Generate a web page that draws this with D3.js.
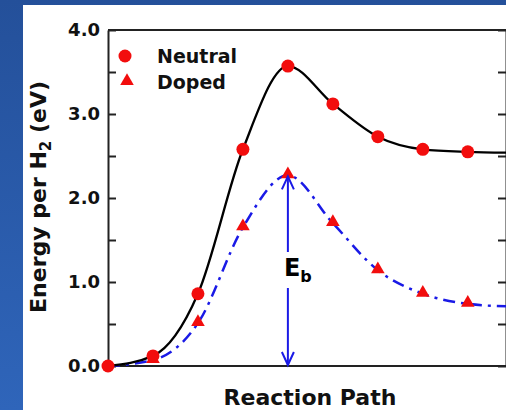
<!DOCTYPE html>
<html>
<head>
<meta charset="utf-8">
<script src="https://cdn.jsdelivr.net/npm/d3@7"></script>
<style>
  html, body { margin: 0; padding: 0; }
  body { width: 506px; height: 410px; overflow: hidden; }
  text { font-family: "DejaVu Sans", sans-serif; font-weight: bold; }
</style>
</head>
<body>
<svg id="chart" width="506" height="410"></svg>
<script>
// reaction coordinate (image index along the path)
const steps = [0, 1, 2, 3, 4, 5, 6, 7, 8]
// energy per H2 in eV
const neutral = [0.00, 0.12, 0.86, 2.58, 3.57, 3.12, 2.73, 2.58, 2.55]
const doped = [0.00, 0.07, 0.51, 1.65, 2.27, 1.70, 1.14, 0.86, 0.74]
// where the fitted curves leave the frame on the right
const curveEnd = [8.85]
const neutralEnd = [2.54]
const dopedEnd = [0.71]
const yTicks = [0, 0.5, 1, 1.5, 2, 2.5, 3, 3.5, 4]
const seriesNames = ['Neutral', 'Doped']
const barrierStep = 4

const svg = d3.select('#chart')

// background: blue slide with a white card
const grad = svg.append('defs').append('linearGradient')
  .attr('id', 'bg').attr('x1', 0).attr('y1', 0).attr('x2', 0).attr('y2', 1)
grad.append('stop').attr('offset', '0%').attr('stop-color', '#24509a')
grad.append('stop').attr('offset', '100%').attr('stop-color', '#2f65ba')
svg.append('rect').attr('width', 506).attr('height', 410).attr('fill', 'url(#bg)')
svg.append('rect').attr('x', 23).attr('y', 5).attr('width', 483).attr('height', 405).attr('fill', '#fff')

const pLeft = 108, pRight = 506, pTop = 30, pBottom = 366
const x = d3.scaleLinear().domain([0, curveEnd[0]]).range([pLeft, pRight])
const y = d3.scaleLinear().domain([0, 4]).range([pBottom, pTop])

// frame
const frame = svg.append('g').attr('stroke', '#222').attr('stroke-width', 2)
frame.append('line').attr('x1', pLeft).attr('x2', pRight).attr('y1', pTop).attr('y2', pTop)
frame.append('line').attr('x1', pLeft).attr('x2', pRight).attr('y1', pBottom).attr('y2', pBottom)

// left axis, ticks pointing in
const yAxis = svg.append('g')
  .attr('transform', `translate(${pLeft},0)`)
  .call(d3.axisLeft(y).tickValues(yTicks).tickSizeInner(-8).tickSizeOuter(0).tickPadding(8)
    .tickFormat(d => Number.isInteger(d) ? d3.format('.1f')(d) : ''))
yAxis.select('.domain').attr('stroke', '#222').attr('stroke-width', 2)
yAxis.selectAll('.tick line').attr('stroke', '#222').attr('stroke-width', 2)
yAxis.selectAll('.tick text').attr('font-size', 18).attr('fill', '#111')
  .attr('font-family', '"DejaVu Sans", sans-serif').attr('font-weight', 'bold')

// right axis mirror ticks
const yAxisR = svg.append('g')
  .attr('transform', `translate(${pRight},0)`)
  .call(d3.axisRight(y).tickValues(yTicks).tickSizeInner(-8).tickSizeOuter(0).tickFormat(''))
yAxisR.select('.domain').attr('stroke', '#222').attr('stroke-width', 2)
yAxisR.selectAll('.tick line').attr('stroke', '#222').attr('stroke-width', 2)

// fitted curves
const line = d3.line()
  .x(d => x(d[0]))
  .y(d => y(d[1]))
  .curve(d3.curveMonotoneX)

const neutralCurve = steps.map((s, i) => [s, neutral[i]]).concat([[curveEnd[0], neutralEnd[0]]])
const dopedCurve = steps.map((s, i) => [s, doped[i]]).concat([[curveEnd[0], dopedEnd[0]]])

svg.append('path')
  .datum(dopedCurve)
  .attr('d', line)
  .attr('fill', 'none')
  .attr('stroke', '#1a1ae6')
  .attr('stroke-width', 2.5)
  .attr('stroke-dasharray', '12,6,3,6')

svg.append('path')
  .datum(neutralCurve)
  .attr('d', line)
  .attr('fill', 'none')
  .attr('stroke', '#000')
  .attr('stroke-width', 2.3)

// markers
const tri = d3.symbol().type(d3.symbolTriangle).size(80)
svg.append('g').selectAll('path')
  .data(steps.slice(1))
  .join('path')
  .attr('d', tri)
  .attr('transform', s => `translate(${x(s)},${y(doped[s]) - 1})`)
  .attr('fill', '#f20d0d')

svg.append('g').selectAll('circle')
  .data(steps)
  .join('circle')
  .attr('cx', s => x(s))
  .attr('cy', s => y(neutral[s]))
  .attr('r', 6.5)
  .attr('fill', '#f20d0d')

// barrier arrow E_b
const ax = x(barrierStep)
const arrow = svg.append('g').attr('stroke', '#1a1ae6').attr('stroke-width', 2).attr('fill', 'none')
arrow.append('line').attr('x1', ax).attr('x2', ax).attr('y1', y(doped[barrierStep]) + 1).attr('y2', 252)
arrow.append('line').attr('x1', ax).attr('x2', ax).attr('y1', 288).attr('y2', pBottom - 1)
arrow.append('path').attr('d', `M${ax - 6},${y(doped[barrierStep]) + 14}L${ax},${y(doped[barrierStep]) + 1}L${ax + 6},${y(doped[barrierStep]) + 14}`)
arrow.append('path').attr('d', `M${ax - 6},${pBottom - 14}L${ax},${pBottom - 1}L${ax + 6},${pBottom - 14}`)

const eb = svg.append('text').attr('x', ax - 4).attr('y', 276).attr('font-size', 24).attr('fill', '#000')
eb.append('tspan').text('E')
eb.append('tspan').attr('font-size', 16).attr('dy', 6).text('b')

// legend
const legend = svg.append('g')
legend.append('circle').attr('cx', 125).attr('cy', 56).attr('r', 6.5).attr('fill', '#f20d0d')
legend.append('path').attr('d', tri).attr('transform', 'translate(127,81)').attr('fill', '#f20d0d')
legend.selectAll('text')
  .data(seriesNames)
  .join('text')
  .attr('x', 157)
  .attr('y', (d, i) => 63 + i * 26)
  .attr('font-size', 19)
  .attr('fill', '#111')
  .text(d => d)

// axis titles
svg.append('text')
  .attr('x', 310).attr('y', 405)
  .attr('text-anchor', 'middle')
  .attr('font-size', 22)
  .attr('fill', '#111')
  .text('Reaction Path')

const yTitle = svg.append('text')
  .attr('transform', 'translate(46,197) rotate(-90)')
  .attr('text-anchor', 'middle')
  .attr('font-size', 22)
  .attr('fill', '#111')
yTitle.append('tspan').text('Energy per H')
yTitle.append('tspan').attr('font-size', 15).attr('dy', 5).text('2')
yTitle.append('tspan').attr('dy', -5).text(' (eV)')
</script>
</body>
</html>
